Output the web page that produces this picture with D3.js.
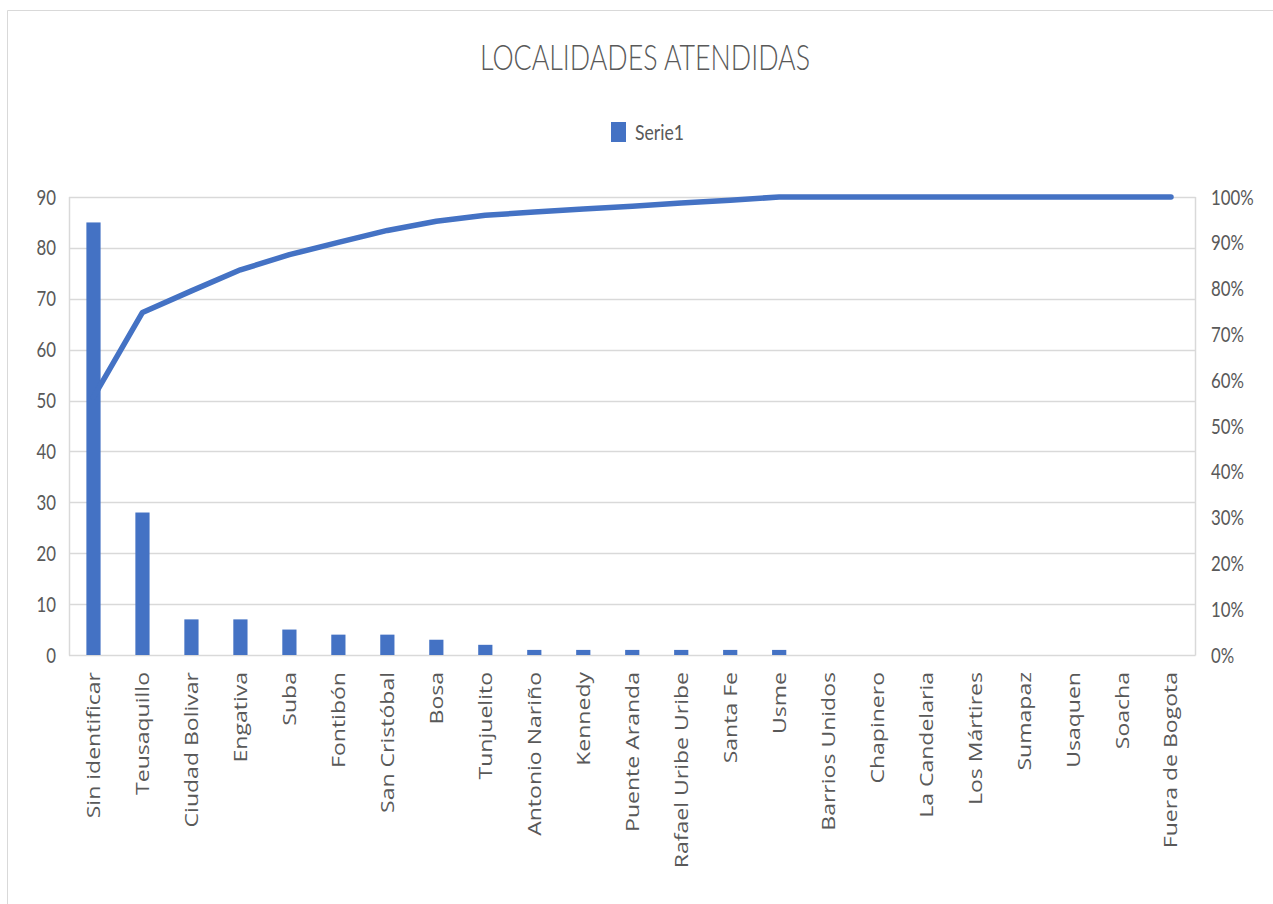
<!DOCTYPE html>
<html>
<head>
<meta charset="utf-8">
<script src="https://cdn.jsdelivr.net/npm/d3@7"></script>
<style>
  body { margin: 0; background: #fff; }
  text { fill: #595959; }
</style>
</head>
<body>
<svg id="chart"></svg>
<script>
var width = 1273,
    height = 904;

// data
var categories = ["Sin identificar", "Teusaquillo", "Ciudad Bolivar", "Engativa", "Suba",
  "Fontibón", "San Cristóbal", "Bosa", "Tunjuelito", "Antonio Nariño", "Kennedy",
  "Puente Aranda", "Rafael Uribe Uribe", "Santa Fe", "Usme", "Barrios Unidos",
  "Chapinero", "La Candelaria", "Los Mártires", "Sumapaz", "Usaquen", "Soacha",
  "Fuera de Bogota"];
var serie1 = [85, 28, 7, 7, 5, 4, 4, 3, 2, 1, 1, 1, 1, 1, 1, 0, 0, 0, 0, 0, 0, 0, 0];
var cumulative = [0.563, 0.748, 0.795, 0.841, 0.874, 0.901, 0.927, 0.947, 0.960, 0.967,
  0.974, 0.980, 0.987, 0.993, 1, 1, 1, 1, 1, 1, 1, 1, 1];
var leftTicks = [0, 10, 20, 30, 40, 50, 60, 70, 80, 90];
var rightTicks = [0, 0.1, 0.2, 0.3, 0.4, 0.5, 0.6, 0.7, 0.8, 0.9, 1];

var blue = "#4472C4",
    grid = "#d9d9d9";

var svg = d3.select("#chart")
    .attr("width", width)
    .attr("height", height);

// outer chart border (left + top only visible)
svg.append("path")
    .attr("d", "M7.5," + height + "V10.5H" + width)
    .attr("fill", "none")
    .attr("stroke", grid);

var x = d3.scaleBand().domain(categories).range([69, 1195.5]);
var y = d3.scaleLinear().domain([0, 90]).range([655, 197]);
var yR = d3.scaleLinear().domain([0, 1]).range([655, 197]);

// gridlines
svg.append("g").selectAll("line")
  .data(leftTicks)
  .enter().append("line")
    .attr("x1", 69).attr("x2", 1195.5)
    .attr("y1", function(d) { return Math.round(y(d)) + 0.5; })
    .attr("y2", function(d) { return Math.round(y(d)) + 0.5; })
    .attr("stroke", grid)
    .attr("stroke-width", 1.5);

// plot area sides
svg.append("line").attr("x1", 69.5).attr("x2", 69.5).attr("y1", 197).attr("y2", 655.5)
    .attr("stroke", grid).attr("stroke-width", 1.5);
svg.append("line").attr("x1", 1195.5).attr("x2", 1195.5).attr("y1", 197).attr("y2", 655.5)
    .attr("stroke", grid).attr("stroke-width", 1.5);

// bars
var barW = x.bandwidth() * 0.29;
svg.append("g").selectAll("rect")
  .data(serie1)
  .enter().append("rect")
    .attr("x", function(d, i) { return x(categories[i]) + x.bandwidth() / 2 - barW / 2; })
    .attr("y", function(d) { return y(d); })
    .attr("width", barW)
    .attr("height", function(d) { return y(0) - y(d); })
    .attr("fill", blue);

// cumulative line
var line = d3.line()
    .x(function(d, i) { return x(categories[i]) + x.bandwidth() / 2; })
    .y(function(d) { return yR(d); });

svg.append("path")
    .datum(cumulative)
    .attr("d", line)
    .attr("fill", "none")
    .attr("stroke", blue)
    .attr("stroke-width", 5.5)
    .attr("stroke-linejoin", "round")
    .attr("stroke-linecap", "round");

// left axis labels
svg.append("g").selectAll("text")
  .data(leftTicks)
  .enter().append("text")
    .attr("transform", function(d) { return "translate(56," + y(d) + ") scale(0.8,1)"; })
    .attr("dy", "0.36em")
    .attr("text-anchor", "end")
    .style("font-family", "Lato, 'Open Sans', sans-serif")
    .style("font-size", "21px")
    .text(function(d) { return d; });

// right axis labels
svg.append("g").selectAll("text")
  .data(rightTicks)
  .enter().append("text")
    .attr("transform", function(d) { return "translate(1211," + yR(d) + ") scale(0.8,1)"; })
    .attr("dy", "0.36em")
    .style("font-family", "Lato, 'Open Sans', sans-serif")
    .style("font-size", "21px")
    .text(function(d) { return Math.round(d * 100) + "%"; });

// category labels
svg.append("g").selectAll("text")
  .data(categories)
  .enter().append("text")
    .attr("transform", function(d) {
      return "translate(" + (x(d) + x.bandwidth() / 2) + ",672) rotate(-90) scale(1.28,1)";
    })
    .attr("dy", "0.36em")
    .attr("text-anchor", "end")
    .style("font-family", "'Open Sans', sans-serif")
    .style("font-size", "18px")
    .text(function(d) { return d; });

// title
svg.append("text")
    .attr("x", 645)
    .attr("y", 70)
    .attr("text-anchor", "middle")
    .attr("textLength", 330)
    .attr("lengthAdjust", "spacingAndGlyphs")
    .style("font-family", "Lato, 'Open Sans', sans-serif")
    .style("font-weight", 300)
    .style("font-size", "35px")
    .text("LOCALIDADES ATENDIDAS");

// legend
svg.append("rect")
    .attr("x", 611).attr("y", 122)
    .attr("width", 15).attr("height", 20)
    .attr("fill", blue);
svg.append("text")
    .attr("transform", "translate(635,132) scale(0.8,1)")
    .attr("dy", "0.36em")
    .style("font-family", "Lato, 'Open Sans', sans-serif")
    .style("font-size", "22px")
    .text("Serie1");
</script>
</body>
</html>
